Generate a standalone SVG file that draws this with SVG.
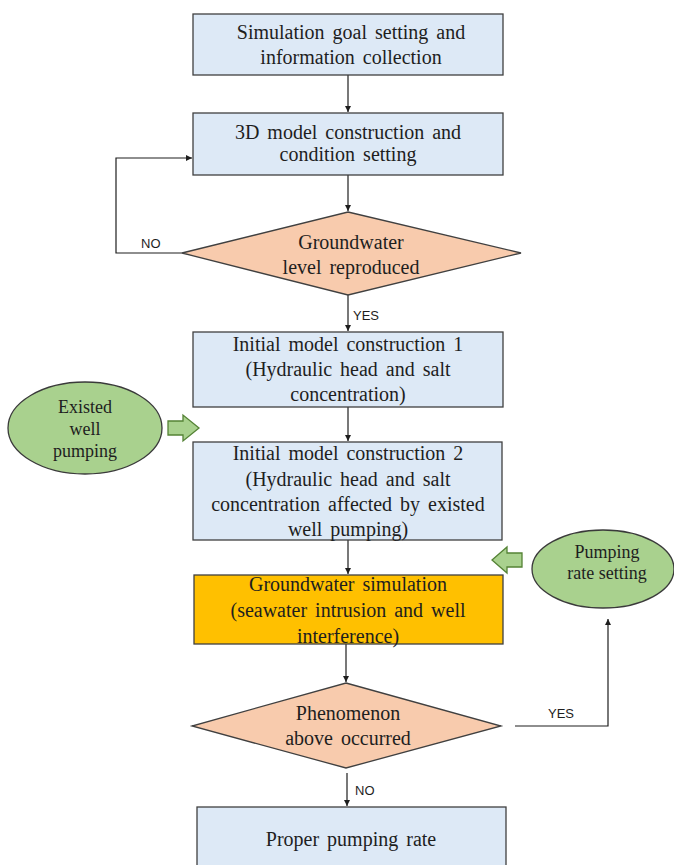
<svg xmlns="http://www.w3.org/2000/svg" width="674" height="865" viewBox="0 0 674 865">
  <style>
    .box { fill: #dde9f6; stroke: #404040; stroke-width: 1.3; }
    .sim { fill: #ffc000; stroke: #404040; stroke-width: 1.3; }
    .dec { fill: #f8cbad; stroke: #404040; stroke-width: 1.3; }
    .ell { fill: #a9d18e; stroke: #3a3a3a; stroke-width: 1.3; }
    .blk { fill: #a9d18e; stroke: #548235; stroke-width: 1.3; }
    .t { font-family: "Liberation Serif", "Times New Roman", serif; font-size: 20px; fill: #1e1e1e; text-anchor: middle; word-spacing: 3px; }
    .te { font-family: "Liberation Serif", "Times New Roman", serif; font-size: 18px; fill: #1e1e1e; text-anchor: middle; }
    .lbl { font-family: "Liberation Sans", Arial, sans-serif; font-size: 13px; fill: #1e1e1e; }
    .c { fill: none; stroke: #1e1e1e; stroke-width: 1.2; }
  </style>
  <defs>
    <marker id="ah" viewBox="0 0 10 10" refX="10" refY="5" markerWidth="6" markerHeight="6" markerUnits="userSpaceOnUse" orient="auto">
      <path d="M0,0 L10,5 L0,10 z" fill="#1e1e1e"/>
    </marker>
  </defs>

  <rect width="674" height="865" fill="#ffffff"/>

  <g id="connectors">
    <path class="c" d="M348,75 V112" marker-end="url(#ah)"/>
    <path class="c" d="M348,175 V211" marker-end="url(#ah)"/>
    <path class="c" d="M182,253 H116 V158 H192" marker-end="url(#ah)"/>
    <path class="c" d="M348,295 V331" marker-end="url(#ah)"/>
    <path class="c" d="M348,407 V441" marker-end="url(#ah)"/>
    <path class="c" d="M348,540 V574" marker-end="url(#ah)"/>
    <path class="c" d="M346,644 V682" marker-end="url(#ah)"/>
    <path class="c" d="M515,726 H608 V619" marker-end="url(#ah)"/>
    <path class="c" d="M347,773 V806" marker-end="url(#ah)"/>
    <text class="lbl" x="141" y="248">NO</text>
    <text class="lbl" x="353" y="320">YES</text>
    <text class="lbl" x="548" y="718">YES</text>
    <text class="lbl" x="355" y="795">NO</text>
  </g>

  <g id="goal">
    <rect class="box" x="193" y="14" width="310" height="61"/>
    <text class="t" x="351" y="39">Simulation goal setting and</text>
    <text class="t" x="351" y="64">information collection</text>
  </g>

  <g id="model3d">
    <rect class="box" x="193" y="113" width="310" height="62"/>
    <text class="t" x="348" y="139">3D model construction and</text>
    <text class="t" x="348" y="161">condition setting</text>
  </g>

  <g id="level-check">
    <polygon class="dec" points="348,212 521,253 348,295 182,253"/>
    <text class="t" x="351" y="249">Groundwater</text>
    <text class="t" x="351" y="274">level reproduced</text>
  </g>

  <g id="initial1">
    <rect class="box" x="193" y="332" width="310" height="75"/>
    <text class="t" x="348" y="351">Initial model construction 1</text>
    <text class="t" x="348" y="376">(Hydraulic head and salt</text>
    <text class="t" x="348" y="401">concentration)</text>
  </g>

  <g id="existed-well">
    <ellipse class="ell" cx="85" cy="428" rx="77" ry="46"/>
    <text class="te" x="85" y="413">Existed</text>
    <text class="te" x="85" y="435">well</text>
    <text class="te" x="85" y="457">pumping</text>
    <polygon class="blk" points="168,421 183,421 183,415 199,428 183,441 183,435 168,435"/>
  </g>

  <g id="initial2">
    <rect class="box" x="193" y="442" width="309" height="98"/>
    <text class="t" x="348" y="460">Initial model construction 2</text>
    <text class="t" x="348" y="486">(Hydraulic head and salt</text>
    <text class="t" x="348" y="511">concentration affected by existed</text>
    <text class="t" x="348" y="536">well pumping)</text>
  </g>

  <g id="pumping-rate">
    <ellipse class="ell" cx="603" cy="569" rx="71" ry="39"/>
    <text class="te" x="607" y="558">Pumping</text>
    <text class="te" x="607" y="579">rate setting</text>
    <polygon class="blk" points="522,553 507,553 507,547 492,560 507,573 507,567 522,567"/>
  </g>

  <g id="simulation">
    <rect class="sim" x="194" y="575" width="309" height="69"/>
    <text class="t" x="348" y="591" fill="#3a2c00">Groundwater simulation</text>
    <text class="t" x="348" y="617">(seawater intrusion and well</text>
    <text class="t" x="348" y="643">interference)</text>
  </g>

  <g id="phenomenon-check">
    <polygon class="dec" points="346,683 501,726 346,768 192,726"/>
    <text class="t" x="348" y="720">Phenomenon</text>
    <text class="t" x="348" y="745">above occurred</text>
  </g>

  <g id="proper-rate">
    <rect class="box" x="197" y="807" width="309" height="70"/>
    <text class="t" x="351" y="846">Proper pumping rate</text>
  </g>
</svg>
